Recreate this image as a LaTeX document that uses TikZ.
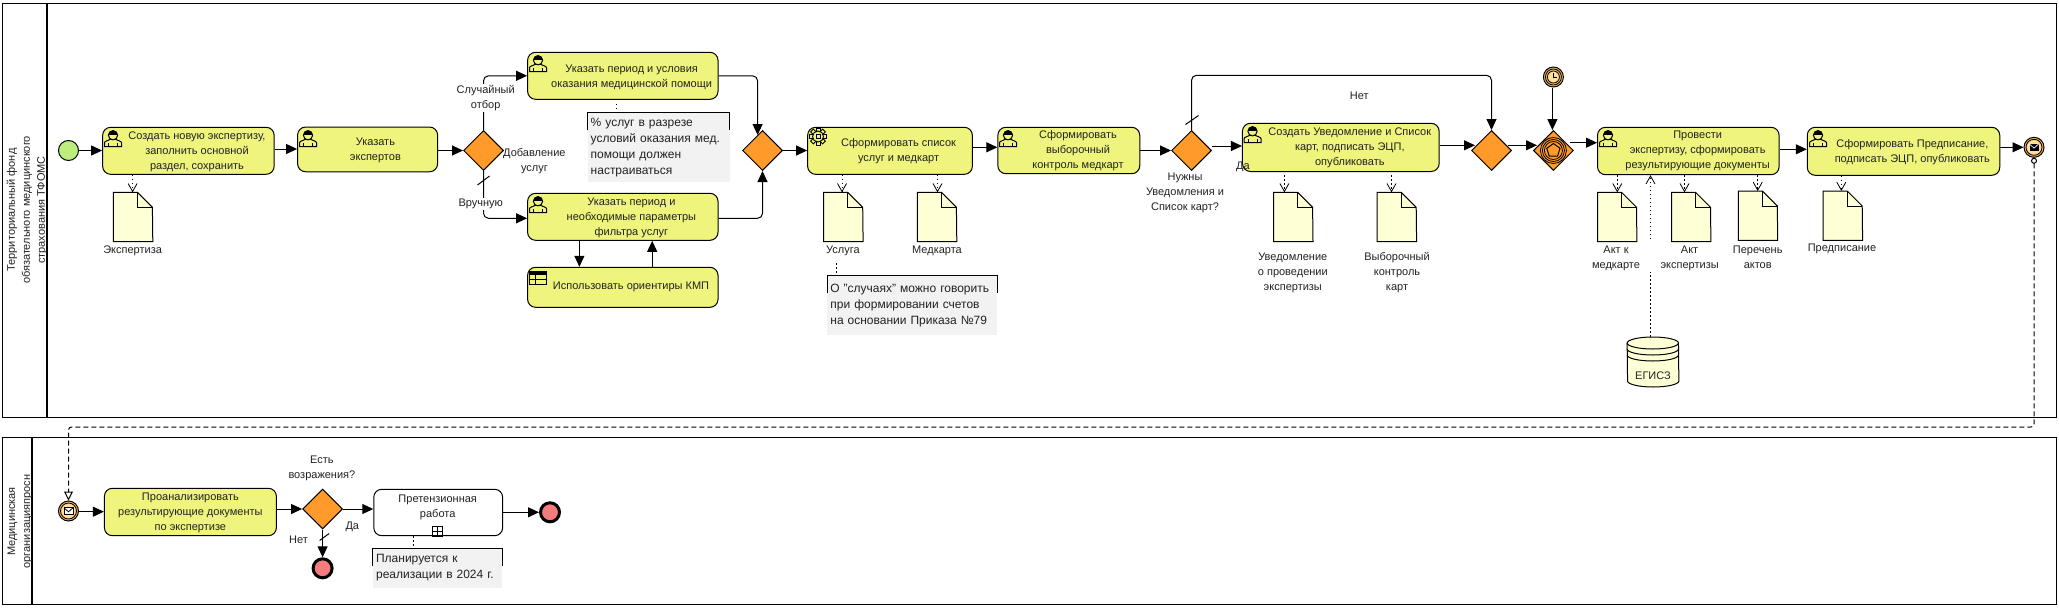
\documentclass[tikz,border=0pt]{standalone}
\usepackage{fontspec}
\setmainfont{Liberation Sans}
\usetikzlibrary{arrows.meta,shapes.geometric}
\definecolor{taskfill}{HTML}{EFF47C}
\definecolor{gatefill}{HTML}{FF9A2B}
\definecolor{docfill}{HTML}{FFFFD5}
\definecolor{notefill}{HTML}{F2F2F2}
\definecolor{endfill}{HTML}{F47C7C}
\definecolor{startfill}{HTML}{BDEE7D}
\definecolor{ringfill}{HTML}{F2B866}
\definecolor{ringin}{HTML}{FFDF9E}
\definecolor{txt}{HTML}{222222}
\tikzset{
	pool/.style={draw, line width=1.1pt, minimum width=0, anchor=north west},
	task/.style={draw, line width=1pt, fill=taskfill, rounded corners=8pt, inner sep=0},
	subtask/.style={task, fill=white},
	gate/.style={draw, line width=1pt, fill=gatefill, diamond, aspect=1, inner sep=0, minimum size=40},
	lbl/.style={text=txt, align=center, font=\fontsize{11}{15}\selectfont, inner sep=0},
	lblw/.style={lbl, fill=white, inner sep=1},
	notebox/.style={fill=notefill, anchor=north west, align=left, inner xsep=3, inner ysep=0, text=txt, font=\fontsize{12}{16}\selectfont},
	notemark/.style={draw, line width=1pt},
	docbox/.style={minimum width=39, minimum height=49, inner sep=0, anchor=north west},
	docline/.style={draw, line width=1pt, fill=docfill},
	flow/.style={line width=1pt, -{Triangle[length=11pt,width=10pt]}, rounded corners=5pt},
	plain/.style={line width=1pt, rounded corners=5pt},
	assoc/.style={line width=.8pt, dash pattern=on 1.5pt off 2.5pt, -{Straight Barb[length=8pt,width=9pt]}},
	dots/.style={line width=.8pt, dash pattern=on 1.5pt off 2.5pt},
	msgflow/.style={line width=1pt, dash pattern=on 5pt off 3pt, rounded corners=3pt, {Circle[open,fill=white,length=6pt,width=6pt]}-{Triangle[open,fill=white,length=9pt,width=9pt]}},
	startev/.style={circle, draw, line width=1pt, fill=startfill, inner sep=0, minimum size=20},
	endev/.style={circle, draw, line width=3pt, fill=endfill, inner sep=0, minimum size=19},
	ringev/.style={circle, draw, line width=1pt, fill=ringfill, inner sep=0, minimum size=20},
	usericon/.pic={
		\draw[line width=1pt] (1,17.4) -- (1,13.5) .. controls (1,11.5) and (5,11.5) .. (7,10) -- (12,10) .. controls (14,11.5) and (18,11.5) .. (18,13.5) -- (18,17.4) -- cycle;
		\draw[line width=.8pt] (5,14) -- (5,17.4) (14,14) -- (14,17.4);
		\draw[line width=1pt, fill=taskfill] (9.5,6) circle[radius=4.6pt];
		\fill (4.9,5.5) arc[start angle=180, end angle=0, radius=4.6pt] -- cycle;
	},
	gearicon/.pic={
		\foreach \a in {0,45,...,315} {
			\draw[line width=.9pt, fill=taskfill, shift={(9,8.5)}, rotate=\a] (-2,-4) rectangle (2,-8.5);
		}
		\draw[line width=.9pt, fill=taskfill] (9,8.5) circle[radius=5.5pt];
		\draw[line width=.9pt] (7,6.5) rectangle (11,10.5);
	},
	tableicon/.pic={
		\draw[line width=1pt, fill=taskfill] (0,0) rectangle (17,13);
		\fill (0,0) rectangle (17,3.5);
		\draw[line width=1pt] (0,8) -- (17,8) (6,3.5) -- (6,13);
	},
	envelope/.pic={
		\draw[line width=1pt, fill=white] (-4.5,-3.2) rectangle (4.5,3.2);
		\draw[line width=.8pt] (-4.5,-3.2) -- (0,.8) -- (4.5,-3.2);
	},
	envelopeblack/.pic={
		\fill (-4.5,-3.2) rectangle (4.5,3.2);
		\draw[line width=.7pt, white] (-4.5,-3.2) -- (0,.8) -- (4.5,-3.2);
	},
}
\newcommand{\datadoc}[3]{
	\node[docbox] (#1) at (#2,#3) {};
	\draw[docline] (#1.north west) -- ++(24,0) -- ++(15,15) -- (#1.south east) -- (#1.south west) -- cycle;
	\draw[line width=1pt] (#1.north west) ++(24,0) -- ++(0,15) -- ++(15,0);
}
\begin{document}
\begin{tikzpicture}[x=1pt, y=-1pt]
	\useasboundingbox (0,0) rectangle (2059,608);

	% pools
	\node[pool, minimum width=2054, minimum height=414, inner sep=0] (poolA) at (2,3) {};
	\draw[line width=1.1pt] (47,3) -- (47,417);
	\node[lbl, rotate=90] (poolAtext) at (27,210) {Территориальный фонд\\обязательного медицинского\\страхования ТФОМС};
	\node[pool, minimum width=2054, minimum height=167, inner sep=0] (poolB) at (2,437) {};
	\draw[line width=1.1pt] (32,437) -- (32,604);
	\node[lbl, rotate=90] (poolBtext) at (20,521.5) {Медицинская\\организацияпросн};

	% tasks of the upper pool
	\node[startev] (start) at (68.5,150.5) {};
	\node[task, minimum width=171.5, minimum height=47] (create) at (188.4,150.8) {};
	\node[task, minimum width=140, minimum height=44.7] (experts) at (367.6,149.4) {};
	\node[gate] (gateA) at (483.5,150.5) {};
	\node[task, minimum width=190.4, minimum height=47] (cond) at (622.8,75.8) {};
	\node[task, minimum width=190.4, minimum height=47] (filter) at (622.8,216.8) {};
	\node[task, minimum width=190.4, minimum height=40] (kmp) at (622.8,287.3) {};
	\node[gate] (gateB) at (762.5,150.5) {};
	\node[task, minimum width=164.7, minimum height=47] (list) at (890,150.8) {};
	\node[task, minimum width=141.9, minimum height=46.4] (sample) at (1068.8,150.5) {};
	\node[gate] (gateC) at (1191.5,150.5) {};
	\node[task, minimum width=196.7, minimum height=48.2] (notice) at (1340.8,147.4) {};
	\node[gate] (gateD) at (1491.5,150.5) {};
	\node[gate] (gateE) at (1553.4,150.5) {};
	\node[task, minimum width=181.6, minimum height=47.4] (review) at (1688.3,151) {};
	\node[task, minimum width=192.5, minimum height=48] (order) at (1903.5,151.3) {};
	\node[ringev] (timer) at (1553.4,77) {};
	\node[ringev] (sendmsg) at (2034,147.3) {};

	% task texts
	\node[lbl] (createtext) at (197,152) {Создать новую экспертизу,\\заполнить основной\\раздел, сохранить};
	\node[lbl] (expertstext) at (375.4,150) {Указать\\экспертов};
	\node[lbl] (condtext) at (631.6,77) {Указать период и условия\\оказания медицинской помощи};
	\node[lbl] (filtertext) at (631.4,217.5) {Указать период и\\необходимые параметры\\фильтра услуг};
	\node[lbl] (kmptext) at (631,287.3) {Использовать ориентиры КМП};
	\node[lbl] (listtext) at (898.6,151) {Сформировать список\\услуг и медкарт};
	\node[lbl] (sampletext) at (1078,150.5) {Сформировать\\выборочный\\контроль медкарт};
	\node[lbl] (noticetext) at (1349.8,147.5) {Создать Уведомление и Список\\карт, подписать ЭЦП,\\опубликовать};
	\node[lbl] (reviewtext) at (1697.6,151.3) {Провести\\экспертизу, сформировать\\результирующие документы};
	\node[lbl] (ordertext) at (1912.3,151.8) {Сформировать Предписание,\\подписать ЭЦП, опубликовать};

	% task icons
	\pic at (103.5,129.3) {usericon};
	\pic at (298.5,129.3) {usericon};
	\pic at (528.5,54.3) {usericon};
	\pic at (528.5,195.3) {usericon};
	\pic at (998.5,129.3) {usericon};
	\pic at (1243,125.3) {usericon};
	\pic at (1598.5,129.3) {usericon};
	\pic at (1808.5,129.3) {usericon};
	\pic at (809,128) {gearicon};
	\pic at (529.5,271) {tableicon};

	% documents
	\datadoc{docExp}{113.4}{192.3}
	\datadoc{docServ}{823.7}{192.3}
	\datadoc{docCard}{917.4}{192.3}
	\datadoc{docNotice}{1273.6}{192.3}
	\datadoc{docSample}{1377.2}{192.3}
	\datadoc{docAct}{1597.5}{192.3}
	\datadoc{docReview}{1671.5}{192.3}
	\datadoc{docList}{1738.3}{191}
	\datadoc{docOrder}{1823.2}{191}

	% notes
	\node[notebox, minimum width=142, minimum height=69.4, text width=136] (noteA) at (587.5,112.3) {\% услуг в разрезе\\условий оказания мед.\\помощи должен\\настраиваться};
	\draw[notemark] (noteA.north west) ++(0,18) -- (noteA.north west) -- (noteA.north east) -- ++(0,18);
	\node[notebox, minimum width=170, minimum height=59.4, text width=164] (noteB) at (827.2,275.3) {О "случаях" можно говорить\\при формировании счетов\\на основании Приказа №79\\[3pt]};
	\draw[notemark] (noteB.north west) ++(0,18) -- (noteB.north west) -- (noteB.north east) -- ++(0,18);

	% database
	\node[minimum width=51.3, minimum height=50, inner sep=0] (egisz) at (1653,362) {};
	\draw[line width=1pt, fill=docfill] (egisz.west |- 0,343) arc[start angle=180, end angle=0, x radius=25.65pt, y radius=6pt] -- (egisz.east |- 0,381) arc[start angle=360, end angle=180, x radius=25.65pt, y radius=6pt] -- cycle;
	\foreach \y in {343,349,355} {
		\draw[line width=1pt] (egisz.west |- 0,\y) arc[start angle=180, end angle=360, x radius=25.65pt, y radius=6pt];
	}
	\node[lbl] (egisztext) at (1653,376) {ЕГИСЗ};

	% event details
	\draw[line width=.8pt] (timer) circle[radius=8pt];
	\draw[line width=.8pt, fill=ringin] (timer) circle[radius=6pt];
	\draw[line width=.8pt] (1553.4,73) -- (timer.center) -- (1557,77);
	\draw[line width=.8pt] (gateE) circle[radius=13pt] (gateE) circle[radius=11pt];
	\draw[line width=.8pt] (gateE) circle[radius=9pt];
	\node[draw, line width=1pt, regular polygon, regular polygon sides=5, minimum size=14, inner sep=0] (penta) at (gateE) {};
	\draw[line width=.8pt] (sendmsg) circle[radius=8pt];
	\fill[ringin] (sendmsg) circle[radius=7pt];
	\pic at (sendmsg) {envelopeblack};

	% flows of the upper pool
	\draw[flow] (start) -- (create.west |- start);
	\draw[flow] (create.east |- 0,149) -- (experts.west |- 0,149);
	\draw[flow] (experts.east |- gateA) -- (gateA.west);
	\draw[flow] (gateA.north) -- (gateA.north |- cond.west) -- (cond.west);
	\draw[flow] (gateA.south) -- (gateA.south |- 0,218.3) -- (filter.west |- 0,218.3);
	\draw[flow] (cond.east) -- (757.6,75.8) -- (757.6,135);
	\draw[flow] (filter.east |- 0,218.3) -- (gateB.south |- 0,218.3) -- (gateB.south);
	\draw[flow] (filter.south -| 579.4,0) -- (kmp.north -| 579.4,0);
	\draw[flow] (kmp.north -| 652.2,0) -- (filter.south -| 652.2,0);
	\draw[flow] (gateB.east) -- (list.west |- gateB);
	\draw[flow] (list.east |- 0,147.3) -- (sample.west |- 0,147.3);
	\draw[flow] (sample.east |- gateC) -- (gateC.west);
	\draw[flow] (gateC.east |- 0,146) -- (notice.west |- 0,146);
	\draw[flow] (gateC.north) -- (gateC.north |- 0,75.3) -- (gateD.north |- 0,75.3) -- (gateD.north);
	\draw[flow] (notice.east |- 0,145.3) -- (1475,145.3);
	\draw[flow] (1508,145.3) -- (1537,145.3);
	\draw[flow] (1570,142.7) -- (review.west |- 0,142.7);
	\draw[flow] (timer.south -| 1552.4,0) -- (gateE.north -| 1552.4,0);
	\draw[flow] (review.east |- 0,149.3) -- (order.west |- 0,149.3);
	\draw[flow] (order.east |- 0,147.3) -- (sendmsg.west);

	% default marks
	\draw[plain] (gateA.south) ++(-6,14) -- ++(12,-9);
	\draw[plain] (gateC.north) ++(-6,-5.5) -- ++(13,-9);

	% labels on flows
	\node[lblw] (lblRandom) at (485.7,97.8) {Случайный\\отбор};
	\node[lblw] (lblManual) at (480.8,204.3) {Вручную};
	\node[lbl] (lblAdd) at (534.4,160.8) {Добавление\\услуг};
	\node[lbl] (lblNeed) at (1185,193.3) {Нужны\\Уведомления и\\Список карт?};
	\node[lbl] (lblYes) at (1243,167) {Да};
	\node[lbl] (lblNo) at (1359.3,95.3) {Нет};

	% document labels
	\node[lbl] (lblExp) at (132.6,250.7) {Экспертиза};
	\node[lbl] (lblServ) at (842.9,250.7) {Услуга};
	\node[lbl] (lblCard) at (937,250.7) {Медкарта};
	\node[lbl] (lblNotice) at (1292.8,272.7) {Уведомление\\о проведении\\экспертизы};
	\node[lbl] (lblSample) at (1397,272.5) {Выборочный\\контроль\\карт};
	\node[lbl] (lblAct) at (1616,258) {Акт к\\медкарте};
	\node[lbl] (lblReview) at (1689.6,258) {Акт\\экспертизы};
	\node[lbl] (lblList) at (1757.7,256.8) {Перечень\\актов};
	\node[lbl] (lblOrder) at (1842,249.3) {Предписание};

	% associations
	\draw[assoc] (create.south -| 132.6,0) -- (docExp.north -| 132.6,0);
	\draw[assoc] (list.south -| 842,0) -- (docServ.north -| 842,0);
	\draw[assoc] (list.south -| 937.5,0) -- (docCard.north -| 937.5,0);
	\draw[assoc] (1284.4,175) -- (docNotice.north -| 1284.4,0);
	\draw[assoc] (1391.5,175) -- (docSample.north -| 1391.5,0);
	\draw[assoc] (review.south -| 1617.3,0) -- (docAct.north -| 1617.3,0);
	\draw[assoc] (review.south -| 1684.5,0) -- (docReview.north -| 1684.5,0);
	\draw[assoc] (review.south -| 1757.7,0) -- (docList.north -| 1757.7,0);
	\draw[assoc] (order.south -| 1841.3,0) -- (docOrder.north -| 1841.3,0);
	\coordinate (egiszLow) at (1650.5,272);
	\coordinate (egiszHigh) at (1650.5,239);
	\draw[dots] (egisz.north -| 1650.5,0) -- (egiszLow);
	\draw[assoc] (egiszHigh) -- (review.south -| 1650.5,0);
	\draw[dots, shorten <=4pt, shorten >=4pt] (cond.south -| 616.5,0) -- (noteA.north -| 616.5,0);
	\draw[dots] (836.6,263) -- (noteB.north -| 836.6,0);

	% lower pool
	\node[ringev] (recvmsg) at (68.5,511) {};
	\draw[line width=.8pt] (recvmsg) circle[radius=8pt];
	\fill[ringin] (recvmsg) circle[radius=7pt];
	\pic at (recvmsg) {envelope};
	\node[task, minimum width=172, minimum height=47.4] (analyse) at (190.4,512) {};
	\node[gate] (gateF) at (322.6,509) {};
	\node[subtask, minimum width=128.9, minimum height=46.4] (claims) at (438.2,512.5) {};
	\node[endev] (endA) at (550,512.3) {};
	\node[endev] (endB) at (322.6,568.3) {};
	\node[lbl] (analysetext) at (190.4,512.5) {Проанализировать\\результирующие документы\\по экспертизе};
	\node[lbl] (claimstext) at (437.7,507) {Претензионная\\работа};
	\node[draw, line width=1pt, minimum size=10, inner sep=0] (expand) at (437,531) {};
	\draw[line width=1pt] (expand.north) -- (expand.south) (expand.west) -- (expand.east);
	\node[notebox, minimum width=128.5, minimum height=39.7, text width=123] (noteC) at (372.9,548) {Планируется к\\реализации в 2024 г.};
	\draw[notemark] (noteC.north west) ++(0,18) -- (noteC.north west) -- (noteC.north east) -- ++(0,18);
	\draw[dots] (claims.south -| 413.6,0) -- (noteC.north -| 413.6,0);

	\draw[flow] (recvmsg.east |- 0,511.7) -- (analyse.west |- 0,511.7);
	\draw[flow] (analyse.east |- gateF) -- (gateF.west);
	\draw[flow] (gateF.east) -- (claims.west |- gateF);
	\draw[flow] (claims.east |- endA) -- (endA.west);
	\draw[flow] (gateF.south) -- (endB.north);
	\draw[plain] (gateF.south) ++(-3,11) -- ++(9.5,-7);
	\node[lbl] (lblObject) at (321.9,468.2) {Есть\\возражения?};
	\node[lbl] (lblNoB) at (298.5,540) {Нет};
	\node[lbl] (lblYesB) at (352.3,527.3) {Да};

	% message flow between the pools
	\draw[msgflow] (sendmsg.south) -- (sendmsg.south |- 0,427) -- (recvmsg.north |- 0,427) -- (recvmsg.north);
\end{tikzpicture}
\end{document}
